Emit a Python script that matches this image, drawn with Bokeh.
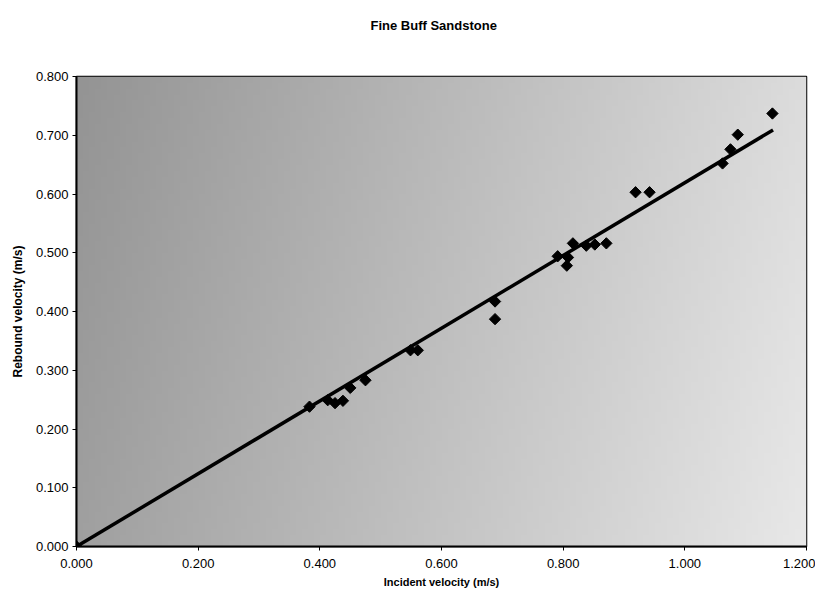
import numpy as np
from bokeh.plotting import figure
from bokeh.models import FixedTicker, Range1d, ColumnDataSource, Title
from bokeh.embed import file_html
from bokeh.resources import INLINE

# ---- data ----
title_text = "Fine Buff Sandstone"
x_label = "Incident velocity (m/s)"
y_label = "Rebound velocity (m/s)"

incident = [0.000, 0.383, 0.413, 0.425, 0.438, 0.450, 0.475, 0.549, 0.561,
            0.688, 0.688, 0.791, 0.806, 0.808, 0.816, 0.838, 0.852, 0.871,
            0.919, 0.942, 1.062, 1.075, 1.087, 1.144]
rebound = [0.000, 0.238, 0.249, 0.244, 0.248, 0.270, 0.283, 0.334, 0.334,
           0.417, 0.387, 0.494, 0.478, 0.492, 0.516, 0.512, 0.514, 0.516,
           0.603, 0.603, 0.652, 0.676, 0.701, 0.737]

fit_x = [0.000, 1.145]
fit_y = [0.000, 0.709]

x_ticks = [0.0, 0.2, 0.4, 0.6, 0.8, 1.0, 1.2]
x_tick_labels = ["0.000", "0.200", "0.400", "0.600", "0.800", "1.000", "1.200"]
y_ticks = [0.0, 0.1, 0.2, 0.3, 0.4, 0.5, 0.6, 0.7, 0.8]
y_tick_labels = ["0.000", "0.100", "0.200", "0.300", "0.400", "0.500", "0.600", "0.700", "0.800"]

FONT = "Liberation Sans"

p = figure(width=815, height=591, output_backend="svg", toolbar_location=None,
           title=None,
           x_range=Range1d(0, 1.2), y_range=Range1d(0, 0.8),
           min_border_left=76, min_border_right=9, min_border_top=76, min_border_bottom=45)

# stippled grey background approximated by a gradient
nx, ny = 120, 80
gx = np.linspace(0, 1, nx)[None, :]
gy = np.linspace(0, 1, ny)[:, None]
shade = 160 + 72 * gx - 12 * gy
shade = np.clip(shade, 0, 255).astype(np.uint32)
img = (255 << 24) | (shade << 16) | (shade << 8) | shade
p.image_rgba(image=[img.astype(np.uint32)], x=0, y=0, dw=1.2, dh=0.8)

# blank spacer (nearest the frame) so the title sits higher above the plot
p.add_layout(Title(text=" ", text_font=FONT, text_font_size="13px", standoff=22), "above")
p.add_layout(Title(text=title_text, align="left", offset=294, text_font=FONT,
                   text_font_size="13px", text_font_style="bold",
                   text_color="black", standoff=10), "above")

p.line(fit_x, fit_y, line_color="black", line_width=3.5)
src = ColumnDataSource(dict(x=incident, y=rebound))
p.scatter("x", "y", source=src, marker="square", size=8, angle=np.pi / 4,
          fill_color="black", line_color="black")

p.xgrid.visible = False
p.ygrid.visible = False
p.outline_line_color = "black"
p.outline_line_width = 1.5
p.background_fill_color = "#c8c8c8"

xa = p.below[0]
ya = p.left[0]
xa.ticker = FixedTicker(ticks=x_ticks)
ya.ticker = FixedTicker(ticks=y_ticks)
xa.major_label_overrides = {t: l for t, l in zip(x_ticks, x_tick_labels)}
ya.major_label_overrides = {t: l for t, l in zip(y_ticks, y_tick_labels)}
xa.axis_label = x_label
ya.axis_label = y_label

for ax in (xa, ya):
    ax.axis_line_color = "black"
    ax.axis_line_width = 2
    ax.major_tick_line_color = "black"
    ax.major_tick_out = 4
    ax.major_tick_in = 0
    ax.minor_tick_line_color = None
    ax.major_label_text_font = FONT
    ax.major_label_text_font_size = "13px"
    ax.major_label_text_color = "black"
    ax.axis_label_text_font = FONT
    ax.axis_label_text_font_style = "bold"
    ax.axis_label_text_color = "black"

xa.axis_label_text_font_size = "11px"
ya.axis_label_text_font_size = "12px"
xa.major_label_standoff = 8
xa.axis_label_standoff = 5
ya.major_label_standoff = 4
ya.axis_label_standoff = 8

open("out.html", "w").write(file_html(p, INLINE))
